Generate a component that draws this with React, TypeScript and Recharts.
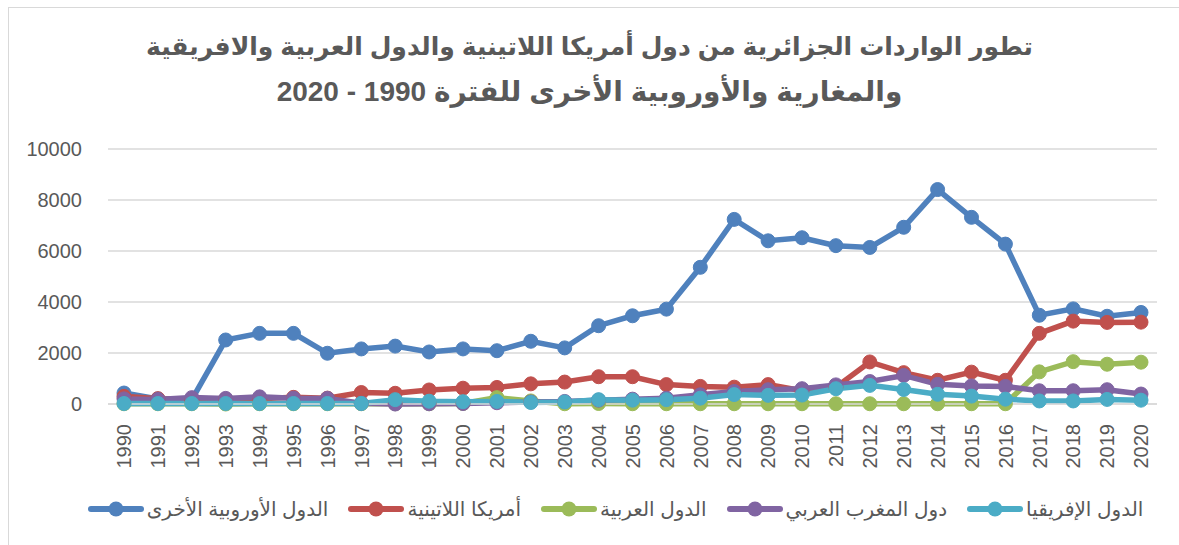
import React from "react";
import { LineChart, Line, XAxis, YAxis, CartesianGrid, Legend } from "recharts";

const years = [
  "1990", "1991", "1992", "1993", "1994", "1995", "1996", "1997", "1998", "1999",
  "2000", "2001", "2002", "2003", "2004", "2005", "2006", "2007", "2008", "2009",
  "2010", "2011", "2012", "2013", "2014", "2015", "2016", "2017", "2018", "2019", "2020",
];

const europeOther = [
  430, 200, 170, 2510, 2770, 2770, 1990, 2160, 2270, 2040,
  2160, 2090, 2460, 2200, 3070, 3460, 3720, 5360, 7240, 6400,
  6520, 6210, 6140, 6930, 8410, 7320, 6270, 3480, 3730, 3440, 3590,
];
const latinAmerica = [
  300, 210, 170, 190, 210, 260, 230, 450, 420, 550,
  620, 650, 790, 860, 1070, 1070, 760, 690, 660, 760,
  520, 660, 1650, 1230, 930, 1250, 930, 2770, 3250, 3200, 3210,
];
const arabStates = [
  10, 10, 10, 0, 10, 10, 10, 10, 10, 10,
  20, 250, 120, 10, 20, 10, 10, 10, 10, 10,
  10, 10, 10, 10, 10, 10, 10, 1260, 1660, 1560, 1640,
];
const maghreb = [
  200, 180, 250, 220, 280, 230, 220, 30, 0, 10,
  20, 50, 80, 100, 150, 190, 230, 360, 490, 560,
  600, 750, 880, 1120, 770, 710, 690, 520, 520, 560, 390,
];
const africa = [
  20, 20, 20, 20, 20, 20, 20, 20, 170, 110,
  90, 100, 60, 80, 170, 150, 170, 230, 370, 340,
  350, 600, 730, 570, 380, 310, 190, 120, 120, 180, 150,
];

const yTicks = [0, 2000, 4000, 6000, 8000, 10000];

const series = [
  { key: "europe", name: "الدول الأوروبية الأخرى", color: "#4F81BD", values: europeOther },
  { key: "latin", name: "أمريكا اللاتينية", color: "#C0504D", values: latinAmerica },
  { key: "arab", name: "الدول العربية", color: "#9BBB59", values: arabStates },
  { key: "maghreb", name: "دول المغرب العربي", color: "#8064A2", values: maghreb },
  { key: "africa", name: "الدول الإفريقيا", color: "#4BACC6", values: africa },
];

const data = years.map((year, i) => {
  const row: Record<string, string | number> = { year };
  series.forEach((s) => {
    row[s.key] = s.values[i];
  });
  return row;
});

const FONT = "'Liberation Sans', Arial, 'DejaVu Sans', sans-serif";
const TEXT = "#595959";

const YearTick = (props: any) => {
  const { x, y, payload } = props;
  return (
    <g transform={`translate(${x},${y})`}>
      <text
        transform="rotate(-90)"
        x={-12}
        dy="0.36em"
        textAnchor="end"
        fill={TEXT}
        fontSize={20}
        fontFamily={FONT}
      >
        {payload.value}
      </text>
    </g>
  );
};

const LegendRow = () => (
  <div
    style={{
      display: "flex",
      justifyContent: "center",
      alignItems: "center",
      gap: 20,
      paddingLeft: 52,
      fontFamily: FONT,
      fontSize: 20,
      color: TEXT,
    }}
  >
    {series.map((s) => (
      <div key={s.key} style={{ display: "flex", alignItems: "center" }}>
        <svg width={56} height={16}>
          <line x1={3} y1={8} x2={53} y2={8} stroke={s.color} strokeWidth={6} strokeLinecap="round" />
          <circle cx={28} cy={8} r={7.5} fill={s.color} />
        </svg>
        <span style={{ direction: "rtl", marginLeft: 3 }}>{s.name}</span>
      </div>
    ))}
  </div>
);

export default function App() {
  return (
    <div
      style={{
        position: "absolute",
        left: 0,
        top: 0,
        width: 1179,
        height: 545,
        background: "#fff",
        overflow: "hidden",
      }}
    >
      <div
        style={{
          position: "absolute",
          left: 8,
          top: 7,
          width: 1200,
          height: 600,
          border: "1.5px solid #d9d9d9",
        }}
      />
      <div
        style={{
          position: "absolute",
          top: 23,
          left: 0,
          width: 1179,
          textAlign: "center",
          direction: "rtl",
          fontFamily: FONT,
          fontWeight: "bold",
          color: TEXT,
        }}
      >
        <div style={{ fontSize: 25, lineHeight: "46px" }}>
          تطور الواردات الجزائرية من دول أمريكا اللاتينية والدول العربية والافريقية
        </div>
        <div style={{ fontSize: 28, lineHeight: "46px" }}>
          والمغارية والأوروبية الأخرى للفترة 1990 - 2020
        </div>
      </div>
      <div style={{ position: "absolute", left: 0, top: 0 }}>
        <LineChart
          width={1179}
          height={545}
          data={data}
          margin={{ top: 149, right: 22, bottom: 71, left: 0 }}
        >
          <CartesianGrid vertical={false} stroke="#d9d9d9" strokeWidth={1.5} />
          <XAxis
            dataKey="year"
            interval={0}
            tick={<YearTick />}
            tickLine={false}
            axisLine={{ stroke: "#d9d9d9", strokeWidth: 1.5 }}
            height={70}
            padding={{ left: 16, right: 16 }}
          />
          <YAxis
            domain={[0, 10000]}
            ticks={yTicks}
            width={108}
            tickLine={false}
            axisLine={false}
            tickMargin={20}
            tick={{ fill: TEXT, fontSize: 20, fontFamily: FONT }}
          />
          <Legend
            verticalAlign="middle"
            align="center"
            layout="horizontal"
            wrapperStyle={{ top: 497, left: 0, width: 1179 }}
            content={<LegendRow />}
          />
          {series.map((s) => (
            <Line
              key={s.key}
              type="linear"
              dataKey={s.key}
              name={s.name}
              stroke={s.color}
              strokeWidth={5.5}
              dot={{ r: 7, fill: s.color, stroke: s.color, strokeWidth: 1 }}
              activeDot={false}
              isAnimationActive={false}
            />
          ))}
        </LineChart>
      </div>
    </div>
  );
}
